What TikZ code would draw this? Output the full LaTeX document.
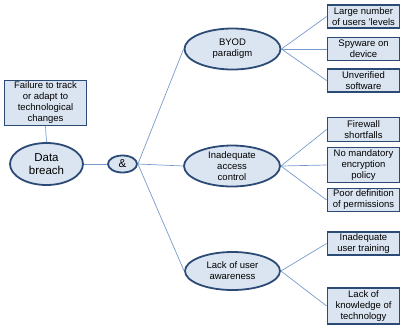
\documentclass[tikz,border=0pt]{standalone}
\usepackage{fontspec}
\setmainfont{Liberation Sans}
\usetikzlibrary{shapes}

\definecolor{boxfill}{RGB}{219,229,241}
\definecolor{boxline}{RGB}{44,74,118}
\definecolor{linkline}{RGB}{120,155,205}

\tikzset{
  cause/.style={draw=boxline,fill=boxfill,line width=1.8pt,ellipse,inner sep=0pt,align=center,font=\fontsize{9.5}{11}\selectfont},
  leaf/.style={draw=boxline,fill=boxfill,line width=1.8pt,rectangle,inner sep=0pt,minimum width=72pt,align=center,font=\fontsize{9.5}{11}\selectfont},
  link/.style={draw=linkline,line width=0.7pt}
}

\begin{document}
\begin{tikzpicture}[x=1pt,y=-1pt]
        \path[use as bounding box] (0,0) rectangle (401,325);

        % left part
        \node [leaf,minimum width=82pt,minimum height=45pt] (failure) at (45.5,103) {Failure to track\\or adapt to\\technological\\changes};
        \node [cause,minimum width=73pt,minimum height=42pt,font=\fontsize{11.5}{13.5}\selectfont] (breach) at (46.5,164) {Data\\breach};
        \node [cause,minimum width=29pt,minimum height=17pt,font=\fontsize{11.5}{13.5}\selectfont] (and) at (122.5,164) {\&};

        % middle causes
        \node [cause,minimum width=96pt,minimum height=41pt] (byod) at (232.5,49) {BYOD\\paradigm};
        \node [cause,minimum width=96pt,minimum height=35pt] (access) at (232,166) {Inadequate\\access\\control};
        \node [cause,minimum width=95pt,minimum height=38pt] (aware) at (232.5,271) {Lack of user\\awareness};

        % right boxes
        \node [leaf,minimum height=23pt] (levels) at (363.5,16.5) {Large number\\of users 'levels};
        \node [leaf,minimum height=23pt] (spyware) at (363.5,49) {Spyware on\\device};
        \node [leaf,minimum height=23pt] (unverified) at (363.5,80.5) {Unverified\\software};
        \node [leaf,minimum height=24pt] (firewall) at (363.5,129.5) {Firewall\\shortfalls};
        \node [leaf,minimum height=35pt] (encrypt) at (363.5,165) {No mandatory\\encryption\\policy};
        \node [leaf,minimum height=23pt] (perm) at (363.5,200) {Poor definition\\of permissions};
        \node [leaf,minimum height=23pt] (training) at (363.5,243.5) {Inadequate\\user training};
        \node [leaf,minimum height=36pt] (knowledge) at (363.5,306) {Lack of\\knowledge of\\technology};

        \draw[link] (failure.south) -- (breach.north);
        \draw[link] (breach.east) -- (and.west);
        \draw[link] (and.east) -- (byod.west);
        \draw[link] (and.east) -- (access.west);
        \draw[link] (and.east) -- (aware.west);

        \draw[link] (byod.east) -- (levels.west);
        \draw[link] (byod.east) -- (spyware.west);
        \draw[link] (byod.east) -- (unverified.west);
        \draw[link] (access.east) -- (firewall.west);
        \draw[link] (access.east) -- (encrypt.west);
        \draw[link] (access.east) -- (perm.west);
        \draw[link] (aware.east) -- (training.west);
        \draw[link] (aware.east) -- (knowledge.west);
      \end{tikzpicture}
\end{document}
